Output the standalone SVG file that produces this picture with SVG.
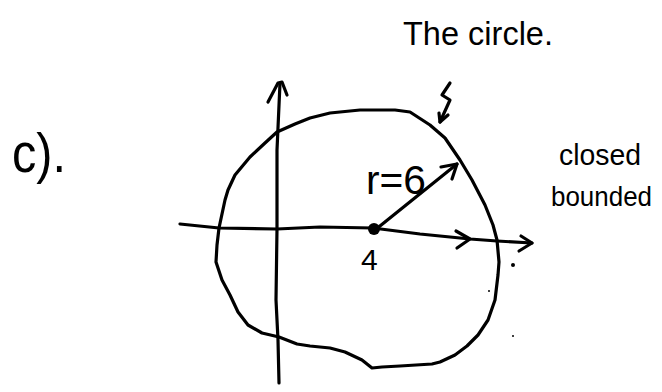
<svg xmlns="http://www.w3.org/2000/svg" width="662" height="392" viewBox="0 0 662 392">
<style>
.ink{fill:none;stroke:#000;stroke-width:3.2;stroke-linecap:round;stroke-linejoin:round}
.t{font-family:"Liberation Sans",Arial,sans-serif;fill:#000}
</style>
<rect width="662" height="392" fill="#fff"/>
<g id="title"><text class="t" x="403" y="45" font-size="34" textLength="150" lengthAdjust="spacingAndGlyphs">The circle.</text></g>
<g id="label-c"><text class="t" x="12" y="172" font-size="56" textLength="54" lengthAdjust="spacingAndGlyphs">c).</text></g>
<g id="label-closed"><text class="t" x="559" y="165" font-size="30" textLength="82" lengthAdjust="spacingAndGlyphs">closed</text></g>
<g id="label-bounded"><text class="t" x="551" y="206" font-size="27" textLength="101" lengthAdjust="spacingAndGlyphs">bounded</text></g>
<g id="circle">
<path class="ink" d="M225,200 L228,190 L235,175 L250,157 L265,143 L277,132 L295,124 L310,118 L330,113 L360,110 L395,110 L410,112 L430,125 L445,138 L460,160 L472,180 L485,205 L493,225 L497,240 L499,262 L498,275 L495,300 L488,320 L478,335 L467,346 L455,355 L440,362 L432,364 L400,366 L382,367 L372,368 L362,360 L345,352 L330,348 L310,346 L297,344 L279,337 L262,333 L248,325 L238,312 L230,295 L222,280 L216,262 L217,245 L219,228 Z"/>
</g>
<g id="connectors">
<path class="ink" d="M279,383 L278,340 L276,300 L277,229 L277,150 L280,83"/>
<path class="ink" d="M268,102 L278,83 L282,82 L287,95"/>
<path class="ink" d="M180,224 L219,228 L277,229 L320,227 L373,228 L420,234 L470,239 L497,241 L532,243"/>
<path class="ink" d="M456,231 L470,239 L457,248"/>
<path class="ink" d="M521,236 L532,243 L519,251"/>
<path class="ink" d="M375,230 L457,164"/>
<path class="ink" d="M441,167 L457,164 L452,179"/>
<path class="ink" d="M450,83 L442,95 L450,100 L440,122"/>
<path class="ink" d="M439,113 L440,122 L448,115"/>
</g>
<g id="center"><circle cx="374" cy="229" r="6" fill="#000"/></g>
<g id="label-r"><text class="t" x="366" y="194" font-size="40" textLength="60" lengthAdjust="spacingAndGlyphs">r=6</text></g>
<g id="label-4"><text class="t" x="361" y="270" font-size="30">4</text></g>
<g id="dots">
<circle cx="513" cy="265" r="2" fill="#000"/>
<circle cx="489" cy="291" r="1" fill="#000"/>
<circle cx="513" cy="336" r="1" fill="#000"/>
</g>
</svg>
